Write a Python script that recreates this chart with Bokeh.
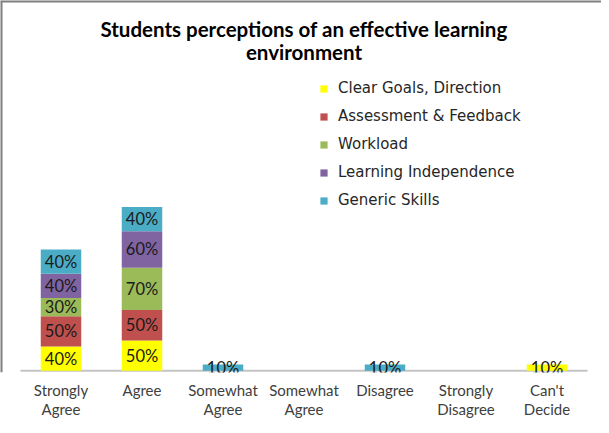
import numpy as np
from bokeh.plotting import figure
from bokeh.models import (Range1d, FixedTicker, Legend, LegendItem, ColumnDataSource,
                          Label, Span)
from bokeh.embed import file_html
from bokeh.resources import INLINE

# ---- data ----
tick_labels = ["Strongly\nAgree", "Agree", "Somewhat\nAgree", "Somewhat\nAgree",
               "Disagree", "Strongly\nDisagree", "Can't\nDecide"]
series_names = ["Clear Goals, Direction", "Assessment & Feedback", "Workload",
                "Learning Independence", "Generic Skills"]
clear_goals = [40, 50, 0, 0, 0, 0, 10]
assessment = [50, 50, 0, 0, 0, 0, 0]
workload = [30, 70, 0, 0, 0, 0, 0]
independence = [40, 60, 0, 0, 0, 0, 0]
generic_skills = [40, 40, 10, 0, 10, 0, 0]
series_values = [clear_goals, assessment, workload, independence, generic_skills]
title_lines = ["Students perceptions of an effective learning", "environment"]
colors = ["#FFFF00", "#C0504D", "#9BBB59", "#8064A2", "#4BACC6"]

FONT = "Lato"
xs = list(range(len(tick_labels)))

# layout constants (pixels)
W, H = 601, 425
BOTTOM = 53            # space for category labels
PAD_L, PAD_R = 20, 14  # empty frame space left/right of the category bands
band = (W - PAD_L - PAD_R) / len(xs)
frame_h = H - BOTTOM
px_per_pct = 0.606
y0 = -3

x_start = -0.5 - PAD_L / band
x_end = len(xs) - 0.5 + PAD_R / band
y_end = frame_h / px_per_pct + y0

p = figure(width=W, height=H, output_backend="svg", toolbar_location=None,
           x_range=Range1d(x_start, x_end), y_range=Range1d(y0, y_end),
           min_border_left=0, min_border_right=0, min_border_top=0,
           min_border_bottom=BOTTOM, title=None)
p.outline_line_color = None
p.grid.visible = False
p.yaxis.visible = False
p.background_fill_color = "white"
p.border_fill_color = "white"

# chart-area border (left and top)
p.add_layout(Span(location=x_start, dimension="height", line_color="#808080", line_width=4))
p.add_layout(Span(location=y_end, dimension="width", line_color="#808080", line_width=4))

# baseline across the category bands
p.segment(x0=[-0.5], x1=[len(xs) - 0.5], y0=[0], y1=[0], line_color="#c4c4c4", line_width=2)

data = {"x": xs}
for name, vals in zip(series_names, series_values):
    data[name] = vals
source = ColumnDataSource(data)

renderers = p.vbar_stack(series_names, x="x", width=0.5, fill_color=colors,
                         line_color=None, source=source)

# segment labels
stack = np.array(series_values, dtype=float)
bottoms = np.cumsum(stack, axis=0) - stack
lx, ly, lt = [], [], []
for i in range(stack.shape[0]):
    for j in range(stack.shape[1]):
        if stack[i, j] > 0:
            lx.append(xs[j])
            ly.append(bottoms[i, j] + stack[i, j] / 2)
            lt.append(f"{int(stack[i, j])}%")
lsrc = ColumnDataSource(dict(x=lx, y=ly, t=lt))
p.text(x="x", y="y", text="t", source=lsrc, text_align="center",
       text_baseline="middle", text_font_size="16.5px", text_color="#1a1a1a",
       text_font={"value": FONT})

ax = p.xaxis[0]
ax.ticker = FixedTicker(ticks=xs)
ax.major_label_overrides = {x: lab for x, lab in zip(xs, tick_labels)}
ax.axis_line_color = None
ax.major_tick_line_color = None
ax.minor_tick_line_color = None
ax.major_label_text_font = FONT
ax.major_label_text_font_size = "15px"
ax.major_label_text_line_height = 1.1
ax.major_label_text_color = "#404040"
ax.major_label_standoff = 2

legend = Legend(items=[LegendItem(label=n, renderers=[r]) for n, r in zip(series_names, renderers)],
                location=(319, 162), label_text_font="DejaVu Sans", label_text_font_size="15px",
                label_text_color="#262626", glyph_width=9, glyph_height=9,
                label_height=20, spacing=8, padding=5, margin=0, label_standoff=10,
                border_line_color=None, background_fill_alpha=0)
p.add_layout(legend)

# chart title (two centred lines)
for text, sy in zip(title_lines, [frame_h - 28, frame_h - 51]):
    p.add_layout(Label(x=(len(xs) - 1) / 2, y=sy, y_units="screen", text=text,
                       text_align="center", text_baseline="alphabetic",
                       text_font=FONT, text_font_size="20.5px", text_font_style="bold",
                       text_color="black"))

open("out.html", "w").write(file_html(p, INLINE))
